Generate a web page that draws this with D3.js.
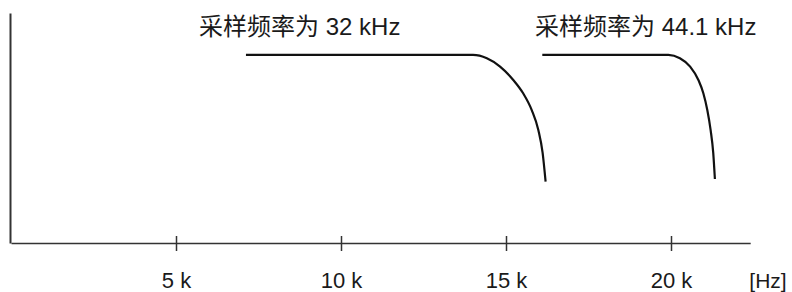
<!DOCTYPE html>
<html>
<head>
<meta charset="utf-8">
<script src="https://cdn.jsdelivr.net/npm/d3@7"></script>
<style>
  body { margin: 0; background: #fff; }
  svg { display: block; }
  text { font-family: "Liberation Sans", Arial, "Noto Sans CJK SC", sans-serif; fill: #1a1a1a; }
</style>
</head>
<body>
<div id="chart"></div>
<script>
// frequency in kHz, level relative to the passband (1 = flat)
const freq32 = [7.12, 14.0, 14.42, 14.82, 15.22, 15.52, 15.78, 15.98, 16.11, 16.2];
const level32 = [1, 1, 0.982, 0.938, 0.867, 0.796, 0.707, 0.601, 0.479, 0.326];
const freq441 = [16.1, 19.92, 20.27, 20.58, 20.83, 20.98, 21.1, 21.2, 21.28, 21.33];
const level441 = [1, 1, 0.982, 0.938, 0.867, 0.796, 0.707, 0.601, 0.479, 0.34];
const tickValues = [5, 10, 15, 20];
const tickLabels = ["5 k", "10 k", "15 k", "20 k"];
const seriesLabels = ["采样频率为 32 kHz", "采样频率为 44.1 kHz"];
const unitLabel = "[Hz]";

const width = 792;
const height = 292;

const svg = d3.select("#chart")
  .append("svg")
  .attr("width", width)
  .attr("height", height);

const x = d3.scaleLinear()
  .domain([0, 22.4])
  .range([11, 750.2]);

const y = d3.scaleLinear()
  .domain([0, 1.223])
  .range([243, 13]);

// x axis, ticks cross the line
const xAxis = svg.append("g")
  .attr("transform", `translate(0,${y(0)})`)
  .call(d3.axisBottom(x)
    .tickValues(tickValues)
    .tickSizeInner(8)
    .tickSizeOuter(0)
    .tickFormat((d, i) => tickLabels[i]));

xAxis.select(".domain").attr("stroke", "#333").attr("stroke-width", 1.5);
xAxis.selectAll(".tick line")
  .attr("y1", -7)
  .attr("stroke", "#333")
  .attr("stroke-width", 1.5);
xAxis.selectAll(".tick text")
  .attr("y", 45)
  .attr("dy", 0)
  .style("font-size", "22px")
  .style("fill", "#1a1a1a");

// y axis, no ticks
const yAxis = svg.append("g")
  .attr("transform", `translate(${x(0) - 1},0)`)
  .call(d3.axisLeft(y).tickValues([]).tickSizeOuter(0));
yAxis.select(".domain").attr("stroke", "#333").attr("stroke-width", 2);

svg.append("text")
  .attr("x", 768)
  .attr("y", 288)
  .attr("text-anchor", "middle")
  .style("font-size", "21px")
  .text(unitLabel);

const line = d3.line()
  .x(d => x(d[0]))
  .y(d => y(d[1]))
  .curve(d3.curveMonotoneX);

const series = [
  { f: freq32, v: level32 },
  { f: freq441, v: level441 }
];

series.forEach(s => {
  svg.append("path")
    .datum(d3.zip(s.f, s.v))
    .attr("fill", "none")
    .attr("stroke", "#111")
    .attr("stroke-width", 2.2)
    .attr("d", line);
});

// labels above each curve
const labelX = [5.7, 15.88];
seriesLabels.forEach((t, i) => {
  svg.append("text")
    .attr("x", x(labelX[i]))
    .attr("y", 35)
    .style("font-size", "24px")
    .text(t);
});
</script>
</body>
</html>
